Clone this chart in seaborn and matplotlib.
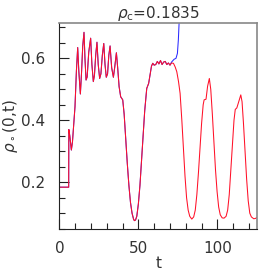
import numpy as np
import pandas as pd
import matplotlib
matplotlib.use("Agg")
import matplotlib.pyplot as plt
import seaborn as sns
from matplotlib.ticker import MultipleLocator

# red curve: rho_o(0,t) vs t
t_red = [0, 5.9, 6.0, 6.6, 7.6, 8.3, 9.0, 9.9, 10.8, 11.6, 12.3, 13.3, 14.0, 14.8,
         15.6, 16.2, 16.9, 17.6, 18.6, 19.8, 20.6, 21.5, 22.2, 23.0, 23.8, 24.6,
         25.5, 26.3, 27.2, 28.1, 28.9, 29.7, 30.5, 31.3, 32.1, 33.1, 34.2, 35.0,
         36.1, 36.9, 37.8, 38.8, 40.1, 41.0, 42.0, 43.0, 44.0, 45.0, 46.0, 47.0,
         47.5, 48.2, 49.0, 50.0, 51.0, 52.0, 53.0, 54.0, 55.3, 56.5, 57.5, 58.3,
         59.1, 60.0, 61.0, 62.0, 63.0, 64.0, 65.0, 66.0, 67.0, 68.0, 69.0, 70.0,
         71.0, 72.2, 73.3, 74.3, 75.4, 76.4, 77.5, 78.5, 79.5, 80.5, 81.5, 82.5,
         83.8, 85.0, 86.0, 87.0, 88.0, 89.0, 90.0, 91.0, 91.6, 92.8, 93.8, 94.9,
         95.8, 96.8, 97.8, 98.8, 99.8, 100.8, 101.8, 103.0, 104.2, 105.5, 106.5,
         107.5, 108.5, 109.5, 110.5, 111.3, 112.3, 113.5, 114.8, 115.6, 116.5,
         117.5, 118.5, 119.5, 120.5, 121.5, 123.0, 124.0, 125.0]
y_red = [0.184, 0.184, 0.37, 0.35, 0.304, 0.33, 0.38, 0.444, 0.56, 0.635, 0.56,
         0.485, 0.55, 0.64, 0.684, 0.60, 0.53, 0.54, 0.62, 0.665, 0.58, 0.525,
         0.545, 0.61, 0.652, 0.58, 0.535, 0.55, 0.61, 0.648, 0.58, 0.539, 0.55,
         0.61, 0.64, 0.57, 0.539, 0.57, 0.618, 0.57, 0.509, 0.476, 0.466, 0.42,
         0.34, 0.26, 0.19, 0.135, 0.10, 0.08, 0.076, 0.078, 0.09, 0.13, 0.19,
         0.27, 0.35, 0.43, 0.503, 0.519, 0.55, 0.575, 0.584, 0.578, 0.58, 0.59,
         0.582, 0.593, 0.58, 0.588, 0.59, 0.58, 0.585, 0.578, 0.585, 0.584,
         0.572, 0.557, 0.525, 0.487, 0.40, 0.31, 0.22, 0.15, 0.11, 0.09, 0.081,
         0.088, 0.11, 0.16, 0.23, 0.31, 0.39, 0.45, 0.466, 0.468, 0.51, 0.535,
         0.50, 0.42, 0.33, 0.24, 0.17, 0.12, 0.095, 0.085, 0.084, 0.09, 0.11,
         0.16, 0.24, 0.32, 0.40, 0.435, 0.44, 0.46, 0.482, 0.46, 0.39, 0.30,
         0.21, 0.14, 0.10, 0.088, 0.082, 0.083, 0.086]

# blue curve: same as red until ~t=70, then runs away upward
t_blue_tail = [71.0, 72.6, 73.8, 74.7, 75.3, 75.9]
y_blue_tail = [0.588, 0.597, 0.600, 0.616, 0.66, 0.73]

title_text = r"$\rho_{\rm c}$=0.1835"

n_common = t_red.index(70.0) + 1
t_blue = t_red[:n_common] + t_blue_tail
y_blue = y_red[:n_common] + y_blue_tail

red_df = pd.DataFrame({"t": t_red, "rho": y_red})
blue_df = pd.DataFrame({"t": t_blue, "rho": y_blue})

sns.set_theme(style="ticks")
plt.rcParams["font.family"] = ["DejaVu Sans"]
plt.rcParams["mathtext.fontset"] = "dejavusans"

fig = plt.figure(figsize=(2.71, 2.71), dpi=100)
ax = fig.add_axes([0.219, 0.155, 0.729, 0.760])

sns.lineplot(data=blue_df, x="t", y="rho", color="#2a2aff", lw=0.75,
             estimator=None, sort=False, ax=ax)
sns.lineplot(data=red_df, x="t", y="rho", color="#ff1028", lw=0.75,
             estimator=None, sort=False, ax=ax)

ax.set_xlim(0, 125)
ax.set_ylim(0.049, 0.714)
ax.xaxis.set_major_locator(MultipleLocator(50))
ax.xaxis.set_minor_locator(MultipleLocator(10))
ax.yaxis.set_major_locator(MultipleLocator(0.2))
ax.yaxis.set_minor_locator(MultipleLocator(0.05))
ax.xaxis.set_major_formatter(plt.FuncFormatter(lambda v, p: f"{v:g}"))
ax.yaxis.set_major_formatter(plt.FuncFormatter(lambda v, p: f"{v:.1f}"))

ax.tick_params(which="both", direction="in", top=False, right=False,
               colors="#222222", labelsize=11, labelcolor="#333333")
ax.tick_params(which="major", length=7, width=0.8)
ax.tick_params(axis="x", which="major", pad=9)
ax.tick_params(axis="y", which="major", pad=10)
ax.tick_params(which="minor", length=4, width=0.8)

for side in ["top", "right"]:
    ax.spines[side].set_color("#888888")
    ax.spines[side].set_linewidth(1.2)
for side in ["left", "bottom"]:
    ax.spines[side].set_color("#222222")
    ax.spines[side].set_linewidth(0.8)

ax.set_xlabel("t", fontsize=11, labelpad=0, color="#333333")
ax.set_ylabel(r"$\rho_\circ$(0,t)", fontsize=11, labelpad=1, color="#333333")
ax.set_title(title_text, fontsize=11, pad=2, color="#333333")

fig.savefig("out.png", dpi=100)
